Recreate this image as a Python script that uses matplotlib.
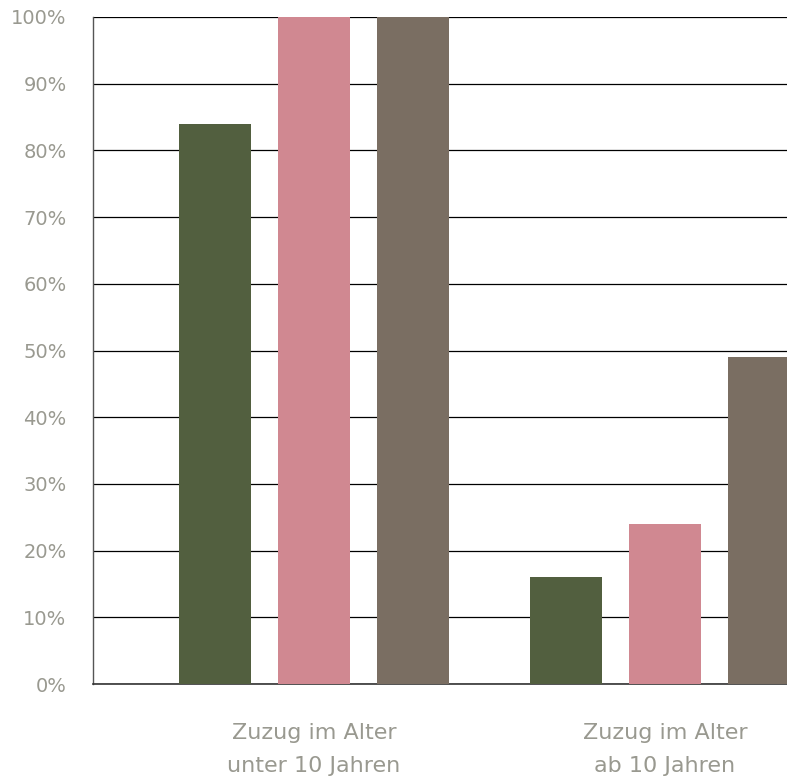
import numpy as np
import matplotlib.pyplot as plt
from matplotlib.ticker import PercentFormatter

categories = ['Zuzug im Alter\nunter 10 Jahren', 'Zuzug im Alter\nab 10 Jahren']
series_a = [84, 16]
series_b = [100, 24]
series_c = [100, 49]
colors = ['#525f3f', '#d08891', '#7a6e62']

plt.rcParams['font.family'] = ['DejaVu Sans']
fig = plt.figure(figsize=(7.87, 7.78), dpi=100)
ax = fig.add_axes([93 / 787, 94 / 778, 1 - 93 / 787, (684 - 17) / 778])

x = np.arange(len(categories))
width = 0.205
step = 0.283
for i, (vals, c) in enumerate(zip([series_a, series_b, series_c], colors)):
	ax.bar(x + (i - 1) * step, vals, width=width, color=c, zorder=3)

ax.set_ylim(0, 100)
ax.set_xlim(-0.63, 1.3476)
ax.set_yticks(np.arange(0, 101, 10))
ax.yaxis.set_major_formatter(PercentFormatter(decimals=0))
ax.grid(axis='y', color='black', linewidth=0.9, zorder=0)
ax.set_axisbelow(True)

ax.set_xticks(x)
ax.set_xticklabels(categories, linespacing=1.85)
ax.tick_params(axis='x', length=0, pad=28, labelsize=16, labelcolor='#999990')
ax.tick_params(axis='y', length=0, pad=19, labelsize=14, labelcolor='#999990')

for s in ['top', 'right']:
	ax.spines[s].set_visible(False)
ax.spines['left'].set_color('#555555')
ax.spines['bottom'].set_color('#333333')
ax.spines['left'].set_linewidth(1.0)
ax.spines['bottom'].set_linewidth(1.2)

fig.savefig('out.png', dpi=100)
